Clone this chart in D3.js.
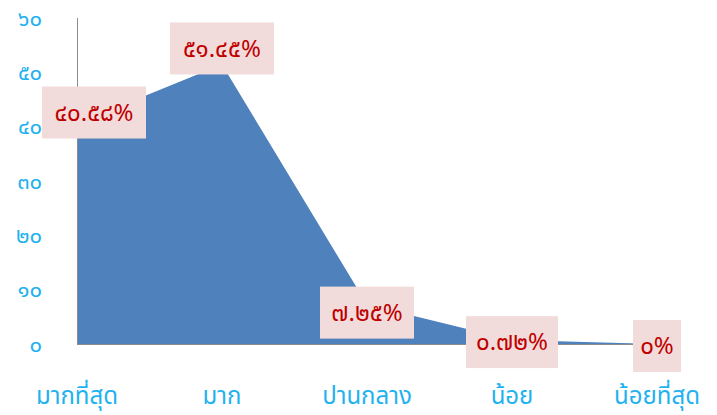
<!DOCTYPE html>
<html><head><meta charset="utf-8">
<script src="https://cdn.jsdelivr.net/npm/d3@7"></script>
<style>body{margin:0;background:#fff}svg{display:block}</style>
</head><body>
<svg id="c" width="717" height="415"></svg>
<script>
const categories = ["มากที่สุด","มาก","ปานกลาง","น้อย","น้อยที่สุด"];
const values = [40.58, 51.45, 7.25, 0.72, 0];
const valueLabels = ["๔๐.๕๘%","๕๑.๔๕%","๗.๒๕%","๐.๗๒%","๐%"];
const yTicks = [0,10,20,30,40,50,60];
const yTickLabels = ["๐","๑๐","๒๐","๓๐","๔๐","๕๐","๖๐"];

const labelNudge = [-11,-16,8,2,2];
const boxW = [104,104,94,92,48];
const font = "Tahoma, 'Noto Sans Thai', 'Noto Sans', sans-serif";
const svg = d3.select("#c");
const x = d3.scalePoint().domain(categories).range([77,657]);
const y = d3.scaleLinear().domain([0,60]).range([344,18]);

svg.append("path")
  .datum(values)
  .attr("fill","#4f81bd")
  .attr("d", d3.area().x((d,i)=>x(categories[i])).y0(y(0)).y1(d=>y(d)));

svg.append("line").attr("x1",77.5).attr("x2",77.5).attr("y1",y(60)).attr("y2",y(0)+1)
  .attr("stroke","#8c8c8c").attr("stroke-width",1);
svg.append("line").attr("x1",77).attr("x2",x(categories[4])).attr("y1",y(0)+0.5).attr("y2",y(0)+0.5)
  .attr("stroke","#8c8c8c").attr("stroke-width",1);

svg.selectAll(".yt").data(yTicks).enter().append("text")
  .attr("x",42).attr("y",d=>y(d)).attr("dy","0.35em").attr("text-anchor","end")
  .attr("fill","#1fb2ef").attr("font-family",font).attr("font-size",22)
  .text((d,i)=>yTickLabels[i]);

svg.selectAll(".xt").data(categories).enter().append("text")
  .attr("x",d=>x(d)).attr("y",404).attr("text-anchor","middle")
  .attr("fill","#1fb2ef").attr("font-family",font).attr("font-size",24)
  .text(d=>d);

const g = svg.selectAll(".lab").data(values).enter().append("g")
  .attr("transform",(d,i)=>`translate(${x(categories[i])+(i===0?17:0)},${y(d)+labelNudge[i]})`);
g.append("rect")
  .attr("x",(d,i)=>-boxW[i]/2).attr("y",-26)
  .attr("width",(d,i)=>boxW[i]).attr("height",52)
  .attr("fill","#f2dcdb");
g.append("text").attr("text-anchor","middle").attr("dy","0.35em")
  .attr("fill","#c00000").attr("font-family",font).attr("font-size",24)
  .text((d,i)=>valueLabels[i]);
</script>
</body></html>
